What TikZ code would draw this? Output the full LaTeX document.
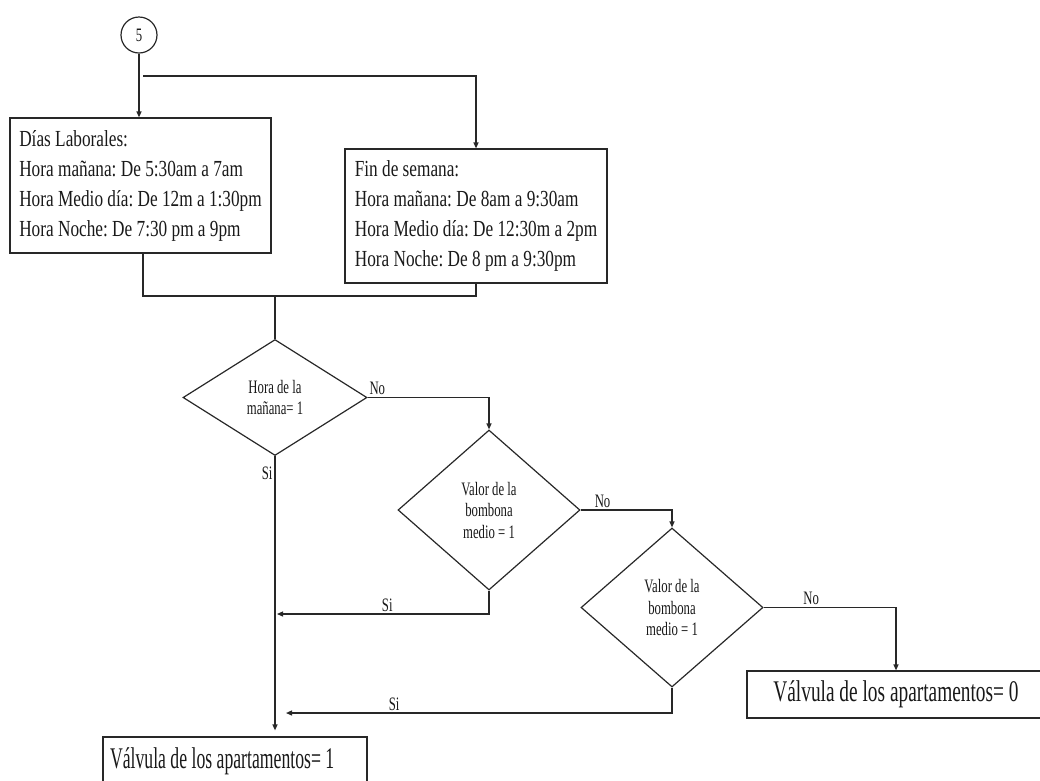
\documentclass[tikz,border=0pt]{standalone}
\usepackage{fontspec}
\setmainfont{Liberation Serif}
\newfontfamily\boxfont[FakeStretch=0.75]{Liberation Serif}
\newfontfamily\decfont[FakeStretch=0.67]{Liberation Serif}
\newfontfamily\endfontA[FakeStretch=0.59]{Liberation Serif}
\newfontfamily\endfontB[FakeStretch=0.645]{Liberation Serif}
\usetikzlibrary{
	arrows.meta,
	shapes.geometric,
	positioning
}
\definecolor{LineGray}{RGB}{40,40,40}
\definecolor{TextGray}{RGB}{25,25,25}
\newcommand{\plainspace}{\spaceskip=0pt\xspaceskip=0pt}
\frenchspacing

\begin{document}
\begin{tikzpicture}[x=1pt, y=-1pt,
		line/.style={draw=LineGray, line width=1.2pt},
		arr/.style={line, -{Triangle[length=6pt,width=5pt]}},
		infobox/.style={draw=LineGray, line width=1.2pt, rectangle, align=left, inner sep=0pt, font=\boxfont\fontsize{23}{30}\selectfont, text=TextGray},
		decision/.style={draw=LineGray, line width=1.2pt, diamond, inner sep=0pt, align=center, font=\decfont\fontsize{19}{21.5}\selectfont, text=TextGray},
		tag/.style={font=\decfont\fontsize{19}{21.5}\selectfont, text=TextGray, inner sep=2pt},
		result/.style={draw=LineGray, line width=1.2pt, rectangle, inner xsep=7pt, inner ysep=0pt, text=TextGray}
	]
		\useasboundingbox (0,0) rectangle (1040,780);
		% conector de entrada
		\node[tag, circle, draw=LineGray, line width=1.2pt, minimum size=36pt, inner sep=0pt] (start) at (139,35) {5};
		
		% horarios
		\node[infobox, minimum width=261pt, minimum height=135pt] (laboral) at (140.5,185.5) {Días Laborales:\\Hora mañana: De 5:30am a 7am\\Hora Medio día: De 12m a 1:30pm\\Hora Noche: De 7:30 pm a 9pm};
		\node[infobox, minimum width=262pt, minimum height=134pt] (finde) at (476,216) {Fin de semana:\\Hora mañana: De 8am a 9:30am\\Hora Medio día: De 12:30m a 2pm\\Hora Noche: De 8 pm a 9:30pm};
		
		% decisiones
		\node[decision, minimum width=184pt, minimum height=116pt] (manana) at (275,397.5) {Hora de la\\mañana= 1};
		\node[decision, minimum width=182pt, minimum height=160pt] (medio) at (489,510) {Valor de la\\bombona\\medio = 1};
		\node[decision, minimum width=182pt, minimum height=159pt] (noche) at (672,607.5) {Valor de la\\bombona\\medio = 1};
		
		% valvulas
		\node[result, font=\endfontA\fontsize{30}{32}\selectfont, text width=250pt, align=left, minimum height=48pt] (abierta) at (235,761) {\plainspace Válvula de los apartamentos= 1};
		\node[result, font=\endfontB\fontsize{30}{32}\selectfont, minimum width=298pt, minimum height=47pt] (cerrada) at (896,694.5) {Válvula de los apartamentos= 0};
		
		\coordinate (split) at (143,76);
		\coordinate (merge) at (275,296);
		\coordinate (join2) at (277,614);
		\coordinate (join3) at (286,713);
		
		% conexiones
		\draw[arr] (start.south) -- (start.south |- laboral.north);
		\draw[arr] (split) -| (finde.north);
		\draw[line] ([xshift=2.5pt]laboral.south) |- (merge -| finde.south) -- (finde.south);
		\draw[line] (merge) -- (manana.north);
		\draw[arr] (manana.east) -| node[tag, pos=0.04, above] {No} (medio.north);
		\draw[arr, shorten >=6pt] (manana.south) -- node[tag, pos=0.06, left] {Si} (manana.south |- abierta.north);
		\draw[arr] (medio.east) -| node[tag, pos=0.12, above] {No} (noche.north);
		\draw[arr] (noche.east) -| node[tag, pos=0.18, above] {No} (cerrada.north);
		\draw[arr] (medio.south) |- node[tag, pos=0.74, above] {Si} (join2);
		\draw[arr] (noche.south) |- node[tag, pos=0.86, above] {Si} (join3);
	\end{tikzpicture}
\end{document}
